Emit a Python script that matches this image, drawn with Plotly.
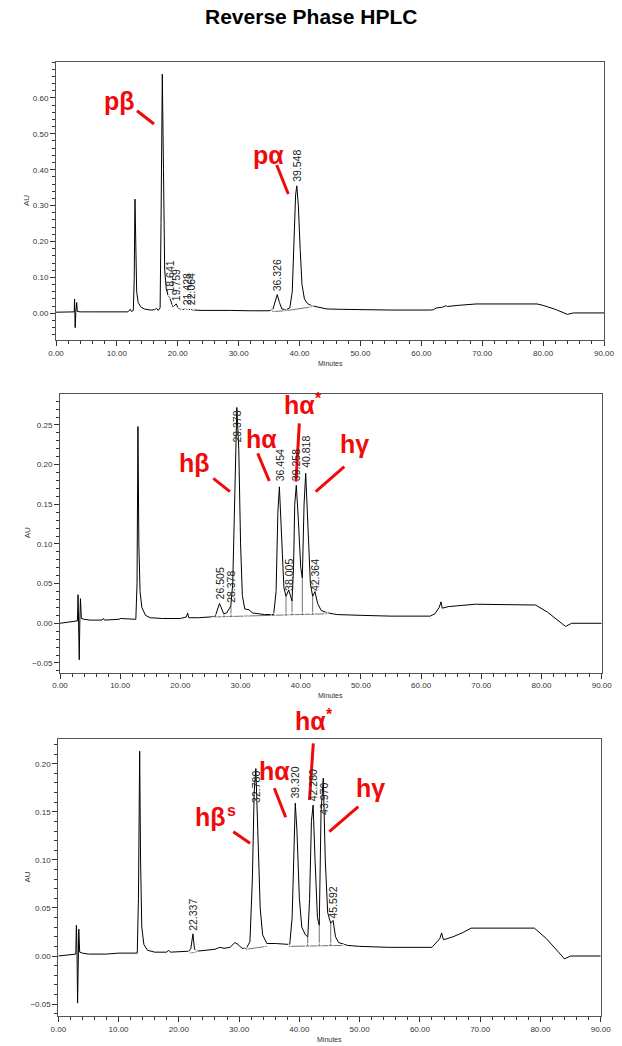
import plotly.graph_objects as go

# ---------------- data ----------------
# Panel 1 (p): chromatogram trace (minutes, AU)
p_time = [0.0, 2.8, 3.0, 3.05, 3.15, 3.25, 3.4, 3.5, 4.0, 6, 8, 10, 11.8, 12.2, 12.4, 12.7, 12.85,
          12.97, 13.1, 13.25, 13.5, 13.9, 14.5, 15.5, 16.2, 16.5, 16.8, 17.1, 17.25, 17.46, 17.65,
          17.85, 18.1, 18.4, 18.64, 18.9, 19.2, 19.5, 19.76, 20.0, 20.3, 20.8, 21.1, 21.43, 21.7,
          22.06, 22.4, 24, 27, 28.3, 28.7, 32, 35.0, 35.6, 35.9, 36.33, 36.7, 37.1, 37.8, 38.4,
          38.8, 39.1, 39.35, 39.55, 39.8, 40.1, 40.4, 40.8, 41.3, 42.0, 42.6, 43.2, 44.5, 47, 50,
          55, 61.5, 62.0, 62.5, 63.5, 64.0, 64.3, 66, 69, 79, 80, 82, 84, 85, 90]
p_au = [0.003, 0.003, 0.004, 0.040, -0.040, 0.002, 0.030, 0.005, 0.004, 0.004, 0.004, 0.004, 0.004,
        0.011, 0.005, 0.008, 0.10, 0.318, 0.17, 0.06, 0.03, 0.018, 0.012, 0.009, 0.010, 0.014,
        0.008, 0.015, 0.25, 0.666, 0.40, 0.12, 0.07, 0.050, 0.045, 0.030, 0.018, 0.022, 0.026,
        0.016, 0.012, 0.010, 0.012, 0.011, 0.010, 0.011, 0.009, 0.008, 0.008, 0.010, 0.008, 0.007,
        0.007, 0.010, 0.030, 0.052, 0.030, 0.012, 0.010, 0.015, 0.06, 0.20, 0.33, 0.355, 0.30,
        0.18, 0.08, 0.04, 0.027, 0.021, 0.019, 0.015, 0.012, 0.011, 0.010, 0.009, 0.009, 0.010,
        0.015, 0.017, 0.021, 0.019, 0.022, 0.026, 0.026, 0.022, 0.011, -0.003, 0.001, 0.001]
p_peak_rt = [18.641, 19.759, 21.428, 22.064, 36.326, 39.548]
p_peak_lbl_y = [0.051, 0.029, 0.018, 0.018, 0.056, 0.360]
p_mark_t = [18.45, 19.16, 20.2, 21.0, 21.45, 21.84, 22.3, 35.52, 37.72, 42.0]
p_mark_y = [0.045, 0.018, 0.012, 0.011, 0.011, 0.010, 0.009, 0.005, 0.007, 0.018]
p_base_t = [35.52, 37.72, None, 37.72, 42.0]
p_base_y = [0.005, 0.007, None, 0.007, 0.018]

# Panel 2 (h): chromatogram trace
h_time = [0, 2.9, 3.0, 3.1, 3.2, 3.3, 3.4, 3.55, 4.0, 5, 7, 7.2, 7.4, 9.8, 10, 12.6, 12.8, 12.95,
          13.1, 13.3, 13.6, 14.2, 15, 17, 20, 21.0, 21.2, 21.4, 23, 25, 25.8, 26.5, 27.2, 27.7,
          28.38, 28.7, 29.0, 29.38, 29.7, 30.0, 30.3, 30.7, 31.4, 32, 34, 35.5, 35.9, 36.2, 36.45,
          36.8, 37.2, 37.55, 38.0, 38.55, 38.8, 39.0, 39.26, 39.6, 40.0, 40.26, 40.55, 40.82, 41.2,
          41.6, 41.98, 42.36, 42.8, 43.4, 44.5, 46, 50, 55, 61.5, 62.3, 63.0, 63.3, 63.5, 64, 64.5,
          66, 69, 79, 81, 84, 85, 90]
h_au = [0.000, 0.003, 0.036, 0.010, -0.046, 0.005, 0.031, 0.006, 0.005, 0.004, 0.004, 0.006, 0.004,
        0.005, 0.006, 0.005, 0.05, 0.248, 0.10, 0.04, 0.02, 0.010, 0.007, 0.006, 0.006, 0.008,
        0.013, 0.007, 0.007, 0.008, 0.009, 0.025, 0.012, 0.013, 0.022, 0.05, 0.17, 0.272, 0.22,
        0.10, 0.035, 0.018, 0.017, 0.013, 0.011, 0.011, 0.04, 0.14, 0.172, 0.12, 0.045, 0.034,
        0.042, 0.028, 0.07, 0.15, 0.174, 0.13, 0.07, 0.057, 0.15, 0.189, 0.12, 0.05, 0.034, 0.040,
        0.025, 0.016, 0.013, 0.011, 0.010, 0.009, 0.009, 0.012, 0.020, 0.027, 0.019, 0.020, 0.021,
        0.022, 0.024, 0.023, 0.014, -0.004, 0.000, 0.000]
h_peak_rt = [26.505, 28.378, 29.378, 36.454, 38.005, 39.258, 40.818, 42.364]
h_peak_lbl_y = [0.027, 0.023, 0.225, 0.177, 0.038, 0.177, 0.193, 0.038]
h_mark_t = [25.75, 27.25, 28.4, 30.9, 35.44, 37.55, 38.55, 40.26, 41.98]
h_mark_y = [0.008, 0.008, 0.009, 0.010, 0.010, 0.010, 0.011, 0.011, 0.011]
h_tri_t = [44.3]
h_tri_y = [0.012]
h_base_t = [25.75, 44.3]
h_base_y = [0.008, 0.012]
h_drop_t = [27.25, 27.25, None, 28.4, 28.4, None, 37.55, 37.55, None, 38.55, 38.55, None,
            40.26, 40.26, None, 41.98, 41.98]
h_drop_y = [0.008, 0.012, None, 0.009, 0.022, None, 0.010, 0.034, None, 0.011, 0.028, None,
            0.011, 0.057, None, 0.011, 0.034]

# Panel 3 (h, second sample): chromatogram trace
s_time = [0, 2.9, 3.0, 3.1, 3.2, 3.3, 3.4, 3.55, 4, 5, 8, 10, 13.1, 13.3, 13.5, 13.65, 13.85, 14.2,
          14.8, 16, 18.0, 18.3, 18.6, 21.7, 22.0, 22.34, 22.6, 23, 26, 26.8, 27.5, 28.5, 29.3, 29.8,
          30.5, 31.2, 31.8, 32.2, 32.5, 32.78, 33.1, 33.5, 33.9, 34.6, 36, 37.5, 38.4, 38.8, 39.1,
          39.32, 39.6, 40.0, 40.4, 41.0, 41.4, 41.7, 42.0, 42.28, 42.6, 43.0, 43.3, 43.6, 43.97,
          44.3, 44.7, 45.2, 45.59, 46.0, 46.5, 48, 50, 55, 62, 62.7, 63.3, 63.6, 63.9, 64.5, 65.5,
          67, 68.5, 79, 81, 84, 85, 90]
s_au = [0.000, 0.002, 0.032, 0.008, -0.049, 0.004, 0.028, 0.004, 0.003, 0.002, 0.002, 0.003, 0.003,
        0.06, 0.213, 0.10, 0.03, 0.012, 0.006, 0.004, 0.004, 0.006, 0.004, 0.005, 0.008, 0.023,
        0.007, 0.005, 0.007, 0.009, 0.008, 0.009, 0.014, 0.012, 0.008, 0.008, 0.015, 0.08, 0.17,
        0.195, 0.14, 0.05, 0.022, 0.013, 0.013, 0.012, 0.012, 0.04, 0.13, 0.159, 0.13, 0.06, 0.030,
        0.022, 0.020, 0.06, 0.14, 0.157, 0.10, 0.04, 0.032, 0.15, 0.185, 0.10, 0.045, 0.034, 0.037,
        0.020, 0.014, 0.011, 0.010, 0.009, 0.009, 0.014, 0.018, 0.024, 0.017, 0.018, 0.020, 0.024,
        0.029, 0.029, 0.018, -0.003, 0.000, 0.000]
s_peak_rt = [22.337, 32.780, 39.320, 42.280, 43.970, 45.592]
s_peak_lbl_y = [0.024, 0.157, 0.162, 0.159, 0.145, 0.037]
s_tri_t = [21.74, 22.85, 31.14, 34.58, 38.23, 47.3]
s_tri_y = [0.003, 0.004, 0.007, 0.010, 0.010, 0.010]
s_mark_t = [41.38, 43.3, 45.2]
s_mark_y = [0.0105, 0.011, 0.011]
s_base_t = [21.74, 22.85, None, 31.14, 34.58, None, 38.23, 47.3]
s_base_y = [0.003, 0.004, None, 0.007, 0.010, None, 0.010, 0.011]
s_drop_t = [41.38, 41.38, None, 43.3, 43.3, None, 45.2, 45.2]
s_drop_y = [0.0105, 0.020, None, 0.011, 0.032, None, 0.011, 0.034]

# ---------------- layout helpers ----------------
W, H = 622, 1046
FONT = "Liberation Sans, Arial, sans-serif"
RED = "#f00a0a"

panels = [
    dict(px=(56, 604), py=(62, 340), yr=(-0.0744, 0.700), ymaj=[0, 0.1, 0.2, 0.3, 0.4, 0.5, 0.6], ymin=0.02),
    dict(px=(60, 601.7), py=(394, 672.7), yr=(-0.0623, 0.289), ymaj=[-0.05, 0, 0.05, 0.1, 0.15, 0.2, 0.25], ymin=0.01),
    dict(px=(58.3, 600.7), py=(739, 1016), yr=(-0.0624, 0.2257), ymaj=[-0.05, 0, 0.05, 0.1, 0.15, 0.2], ymin=0.01),
]

def pxx(x):
    return x / W

def pxy(y):
    return 1 - y / H

fig = go.Figure()
layout = dict(width=W, height=H, margin=dict(l=0, r=0, t=0, b=0, pad=0, autoexpand=False),
              paper_bgcolor="white", plot_bgcolor="white", showlegend=False,
              font=dict(family=FONT, color="#222"))
annotations = []
shapes = []

series = [
    (p_time, p_au, p_peak_rt, p_peak_lbl_y),
    (h_time, h_au, h_peak_rt, h_peak_lbl_y),
    (s_time, s_au, s_peak_rt, s_peak_lbl_y),
]

for i, p in enumerate(panels):
    n = "" if i == 0 else str(i + 1)
    xa, ya = "x" + n, "y" + n
    axis_common = dict(showline=True, mirror=True, linecolor="#555", linewidth=1, showgrid=False,
                       zeroline=False, ticks="outside", ticklen=5, tickcolor="#333", tickwidth=1,
                       automargin=False, tickfont=dict(size=8, family=FONT, color="#333"))
    layout["xaxis" + n] = dict(axis_common, domain=[p["px"][0] / W, p["px"][1] / W], range=[0, 90],
                               anchor=ya, tickmode="array", tickvals=list(range(0, 91, 10)),
                               tickformat=".2f",
                               minor=dict(dtick=2, ticks="outside", ticklen=3, tickcolor="#333"))
    layout["yaxis" + n] = dict(axis_common, domain=[1 - p["py"][1] / H, 1 - p["py"][0] / H],
                               range=list(p["yr"]), anchor=xa, tickmode="array", tickvals=p["ymaj"],
                               tickformat=".2f",
                               minor=dict(dtick=p["ymin"], tick0=0, ticks="outside", ticklen=3,
                                          tickcolor="#333"))
    t, v, rts, lys = series[i]
    fig.add_trace(go.Scatter(x=t, y=v, mode="lines", line=dict(color="black", width=1),
                             xaxis=xa, yaxis=ya, hoverinfo="skip"))
    for rt, ly in zip(rts, lys):
        annotations.append(dict(x=rt, y=ly, xref=xa, yref=ya, text=f"{rt:.3f}", textangle=-90,
                                showarrow=False, xanchor="center", yanchor="bottom",
                                font=dict(size=10.5, family=FONT, color="#222")))
    # axis title annotations
    annotations.append(dict(x=pxx((p["px"][0] + p["px"][1]) / 2), y=pxy(p["py"][1] + 23),
                            xref="paper", yref="paper", text="Minutes", showarrow=False,
                            xanchor="center", yanchor="middle",
                            font=dict(size=7, family=FONT, color="#333")))
    annotations.append(dict(x=pxx(27), y=pxy((p["py"][0] + p["py"][1]) / 2), xref="paper",
                            yref="paper", text="AU", textangle=-90, showarrow=False,
                            xanchor="center", yanchor="middle",
                            font=dict(size=8, family=FONT, color="#333")))

# integration baselines, drop lines and markers
def add_lines(t, y, i):
    n = "" if i == 0 else str(i + 1)
    fig.add_trace(go.Scatter(x=t, y=y, mode="lines", line=dict(color="#333", width=0.7),
                             xaxis="x" + n, yaxis="y" + n, hoverinfo="skip"))

def add_marks(t, y, i, sym):
    n = "" if i == 0 else str(i + 1)
    fig.add_trace(go.Scatter(x=t, y=y, mode="markers",
                             marker=dict(symbol=sym, size=4.5, color="white",
                                         line=dict(color="black", width=0.8)),
                             xaxis="x" + n, yaxis="y" + n, hoverinfo="skip"))

add_lines(p_base_t, p_base_y, 0)
add_marks(p_mark_t, p_mark_y, 0, "triangle-up-open")
add_lines(h_base_t, h_base_y, 1)
add_lines(h_drop_t, h_drop_y, 1)
add_marks(h_mark_t, h_mark_y, 1, "circle-open")
add_marks(h_tri_t, h_tri_y, 1, "triangle-up-open")
add_lines(s_base_t, s_base_y, 2)
add_lines(s_drop_t, s_drop_y, 2)
add_marks(s_tri_t, s_tri_y, 2, "triangle-up-open")
add_marks(s_mark_t, s_mark_y, 2, "circle-open")

# red species labels (page pixel positions -> paper fractions)
# (text, centre x, centre y, superscript, sup x, sup y, sup size, pointer line)
red_labels = [
    ("pβ", 119, 101, None, 0, 0, 0, (137, 110.7, 154, 124)),
    ("pα", 268.5, 155, None, 0, 0, 0, (276.7, 165, 288.3, 194)),
    ("hβ", 195, 463, None, 0, 0, 0, (213.3, 478.3, 230, 491.7)),
    ("hα", 261, 439, None, 0, 0, 0, (257.7, 453.3, 269.3, 481)),
    ("hα", 299, 405, "*", 318.5, 399, 16, (299.3, 423.3, 296, 481.7)),
    ("hγ", 354, 444, None, 0, 0, 0, (344.3, 466.7, 315.7, 491.7)),
    ("hβ", 210, 817, "s", 231.5, 810, 16, (233.3, 831.7, 250, 843.3)),
    ("hα", 274, 771, None, 0, 0, 0, (274.3, 788.3, 285.7, 817.3)),
    ("hα", 310, 720.5, "*", 329.5, 714, 16, (313.3, 743.3, 309.5, 800)),
    ("hγ", 370, 788, None, 0, 0, 0, (358.3, 806.7, 329.3, 831.7)),
]
for txt, cx, cy, sup, sx, sy, ss, (x0, y0, x1, y1) in red_labels:
    annotations.append(dict(x=pxx(cx), y=pxy(cy), xref="paper", yref="paper", text=f"<b>{txt}</b>",
                            showarrow=False, xanchor="center", yanchor="middle",
                            font=dict(size=25, family=FONT, color=RED)))
    if sup:
        annotations.append(dict(x=pxx(sx), y=pxy(sy), xref="paper", yref="paper",
                                text=f"<b>{sup}</b>", showarrow=False, xanchor="center",
                                yanchor="middle", font=dict(size=ss, family=FONT, color=RED)))
    shapes.append(dict(type="line", xref="paper", yref="paper", x0=pxx(x0), y0=pxy(y0),
                       x1=pxx(x1), y1=pxy(y1), line=dict(color=RED, width=3)))

annotations.append(dict(x=pxx(311), y=pxy(17), xref="paper", yref="paper",
                        text="<b>Reverse Phase HPLC</b>", showarrow=False,
                        xanchor="center", yanchor="middle",
                        font=dict(size=21, family=FONT, color="black")))

layout["annotations"] = annotations
layout["shapes"] = shapes
fig.update_layout(**layout)
fig.write_html("out.html", config={"displayModeBar": False},
               post_script="document.body.style.margin='0';")
